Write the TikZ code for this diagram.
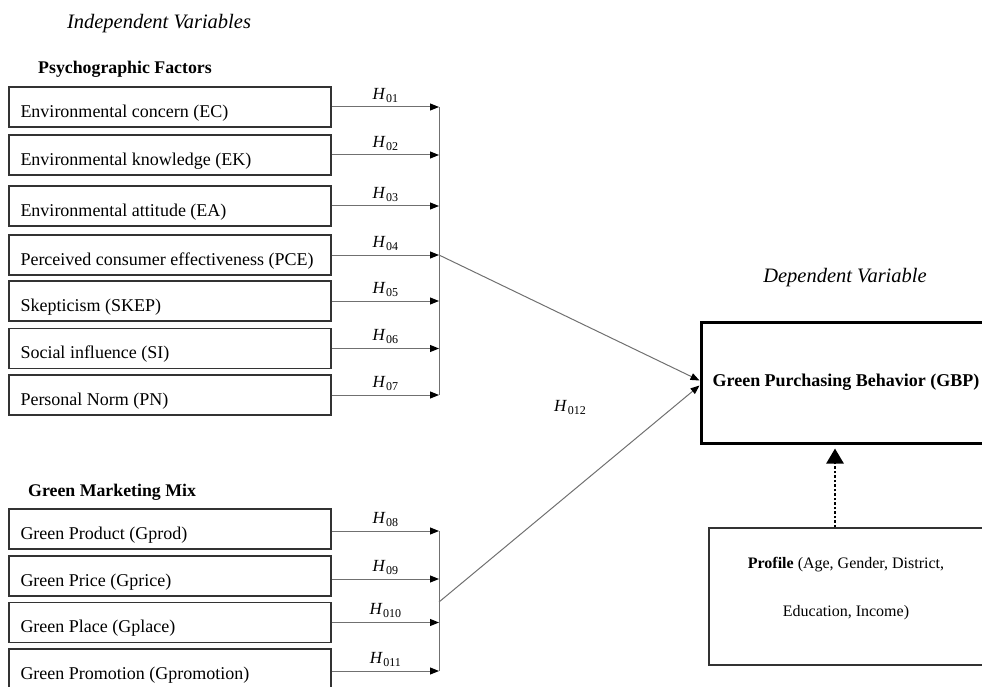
\documentclass[tikz,border=0pt]{standalone}
\usepackage{fontspec}
\setmainfont{Liberation Serif}
\usetikzlibrary{arrows.meta}
\newcommand{\hypo}[1]{\textit{H}\kern0.5pt\raisebox{-3pt}{\fontsize{12}{14}\selectfont #1}}
\definecolor{boxline}{HTML}{333333}
\definecolor{conn}{HTML}{707070}
\begin{document}
\begin{tikzpicture}[x=1pt,y=-1pt,
  ivbox/.style={draw=boxline,line width=1.4pt,minimum width=322pt,minimum height=40pt,inner sep=0pt},
  ivtext/.style={anchor=west,inner sep=0pt,font=\fontsize{18}{21}\selectfont},
  hyparrow/.style={draw=conn,line width=1pt,-{Triangle[length=9pt,width=7pt,color=black]}},
  hyplabel/.style={midway,above=4pt,inner sep=0pt,font=\fontsize{17}{19}\selectfont},
  bus/.style={draw=conn,line width=1pt},
  heading/.style={inner sep=0pt,font=\fontsize{17.8}{21}\selectfont\bfseries},
  vartitle/.style={inner sep=0pt,font=\fontsize{20.5}{24}\selectfont\itshape}]
\useasboundingbox (0,0) rectangle (982,687);
\clip (0,0) rectangle (982,687);

% titles
\node[vartitle] (indep) at (159,24) {Independent Variables};
\node[heading,anchor=west] (psy) at (38,69) {Psychographic Factors};
\node[heading,anchor=west] (gmm) at (28,492) {Green Marketing Mix};
\node[vartitle] (dep) at (845,278) {Dependent Variable};

% psychographic boxes
\node[ivbox] (ec) at (170,107) {};
\node[ivbox] (ek) at (170,155) {};
\node[ivbox] (ea) at (170,206) {};
\node[ivbox] (pce) at (170,255) {};
\node[ivbox] (skep) at (170,301) {};
\node[ivbox] (si) at (170,348.5) {};
\node[ivbox] (pn) at (170,395) {};
\node[ivtext] (ect) at ([xshift=12pt,yshift=-6pt]ec.west) {Environmental concern (EC)};
\node[ivtext] (ekt) at ([xshift=12pt,yshift=-6pt]ek.west) {Environmental knowledge (EK)};
\node[ivtext] (eat) at ([xshift=12pt,yshift=-6pt]ea.west) {Environmental attitude (EA)};
\node[ivtext] (pcet) at ([xshift=12pt,yshift=-6pt]pce.west) {Perceived consumer effectiveness (PCE)};
\node[ivtext] (skept) at ([xshift=12pt,yshift=-6pt]skep.west) {Skepticism (SKEP)};
\node[ivtext] (sit) at ([xshift=12pt,yshift=-6pt]si.west) {Social influence (SI)};
\node[ivtext] (pnt) at ([xshift=12pt,yshift=-6pt]pn.west) {Personal Norm (PN)};

% marketing mix boxes
\node[ivbox] (gprod) at (170,529) {};
\node[ivbox] (gprice) at (170,576) {};
\node[ivbox] (gplace) at (170,622.5) {};
\node[ivbox] (gprom) at (170,669) {};
\node[ivtext] (gprodt) at ([xshift=12pt,yshift=-6pt]gprod.west) {Green Product (Gprod)};
\node[ivtext] (gpricet) at ([xshift=12pt,yshift=-6pt]gprice.west) {Green Price (Gprice)};
\node[ivtext] (gplacet) at ([xshift=12pt,yshift=-6pt]gplace.west) {Green Place (Gplace)};
\node[ivtext] (gpromt) at ([xshift=12pt,yshift=-6pt]gprom.west) {Green Promotion (Gpromotion)};

% bus coordinates
\coordinate (b1) at (439,107);
\coordinate (b2) at (439,155);
\coordinate (b3) at (439,206);
\coordinate (b4) at (439,255);
\coordinate (b5) at (439,301);
\coordinate (b6) at (439,348.5);
\coordinate (b7) at (439,395);
\coordinate (b8) at (439,531);
\coordinate (b9) at (439,579);
\coordinate (b10) at (439,622.5);
\coordinate (b11) at (439,671);
\coordinate (bmid) at (439,602);

\draw[bus] (b1) -- (b7);
\draw[bus] (b8) -- (b11);

\draw[hyparrow] (ec.east) -- (b1) node[hyplabel] (h1) {\hypo{01}};
\draw[hyparrow] (ek.east) -- (b2) node[hyplabel] (h2) {\hypo{02}};
\draw[hyparrow] (ea.east) -- (b3) node[hyplabel] (h3) {\hypo{03}};
\draw[hyparrow] (pce.east) -- (b4) node[hyplabel] (h4) {\hypo{04}};
\draw[hyparrow] (skep.east) -- (b5) node[hyplabel] (h5) {\hypo{05}};
\draw[hyparrow] (si.east) -- (b6) node[hyplabel] (h6) {\hypo{06}};
\draw[hyparrow] (pn.east) -- (b7) node[hyplabel] (h7) {\hypo{07}};
\draw[hyparrow] (gprod.east |- b8) -- (b8) node[hyplabel] (h8) {\hypo{08}};
\draw[hyparrow] (gprice.east |- b9) -- (b9) node[hyplabel] (h9) {\hypo{09}};
\draw[hyparrow] (gplace.east) -- (b10) node[hyplabel] (h10) {\hypo{010}};
\draw[hyparrow] (gprom.east |- b11) -- (b11) node[hyplabel] (h11) {\hypo{011}};

% dependent variable
\node[draw=black,line width=3pt,minimum width=290pt,minimum height=121pt,inner sep=0pt,
      font=\fontsize{18}{21}\selectfont\bfseries] (gbp) at (846,382.5) {Green Purchasing Behavior (GBP)};

\draw[hyparrow] (b4) -- ([yshift=2pt]gbp.west);
\draw[hyparrow] (bmid) -- ([yshift=-3pt]gbp.west);
\node[inner sep=0pt,font=\fontsize{17}{19}\selectfont] (h12) at (570,407) {\hypo{012}};

% profile
\node[draw=boxline,line width=1.5pt,minimum width=274pt,minimum height=137pt,inner sep=0pt] (prof) at (846,596.5) {};
\node[inner sep=0pt,align=center,font=\fontsize{16}{48}\selectfont] (proft) at (846,589)
  {\textbf{Profile} (Age, Gender, District,\\Education, Income)};
\coordinate (dtop) at ([xshift=-11pt,yshift=-4pt]gbp.south);
\draw[line width=2.5pt,dotted,-{Triangle[length=15pt,width=17pt]}] ([xshift=-11pt]prof.north) -- (dtop);
\end{tikzpicture}
\end{document}
